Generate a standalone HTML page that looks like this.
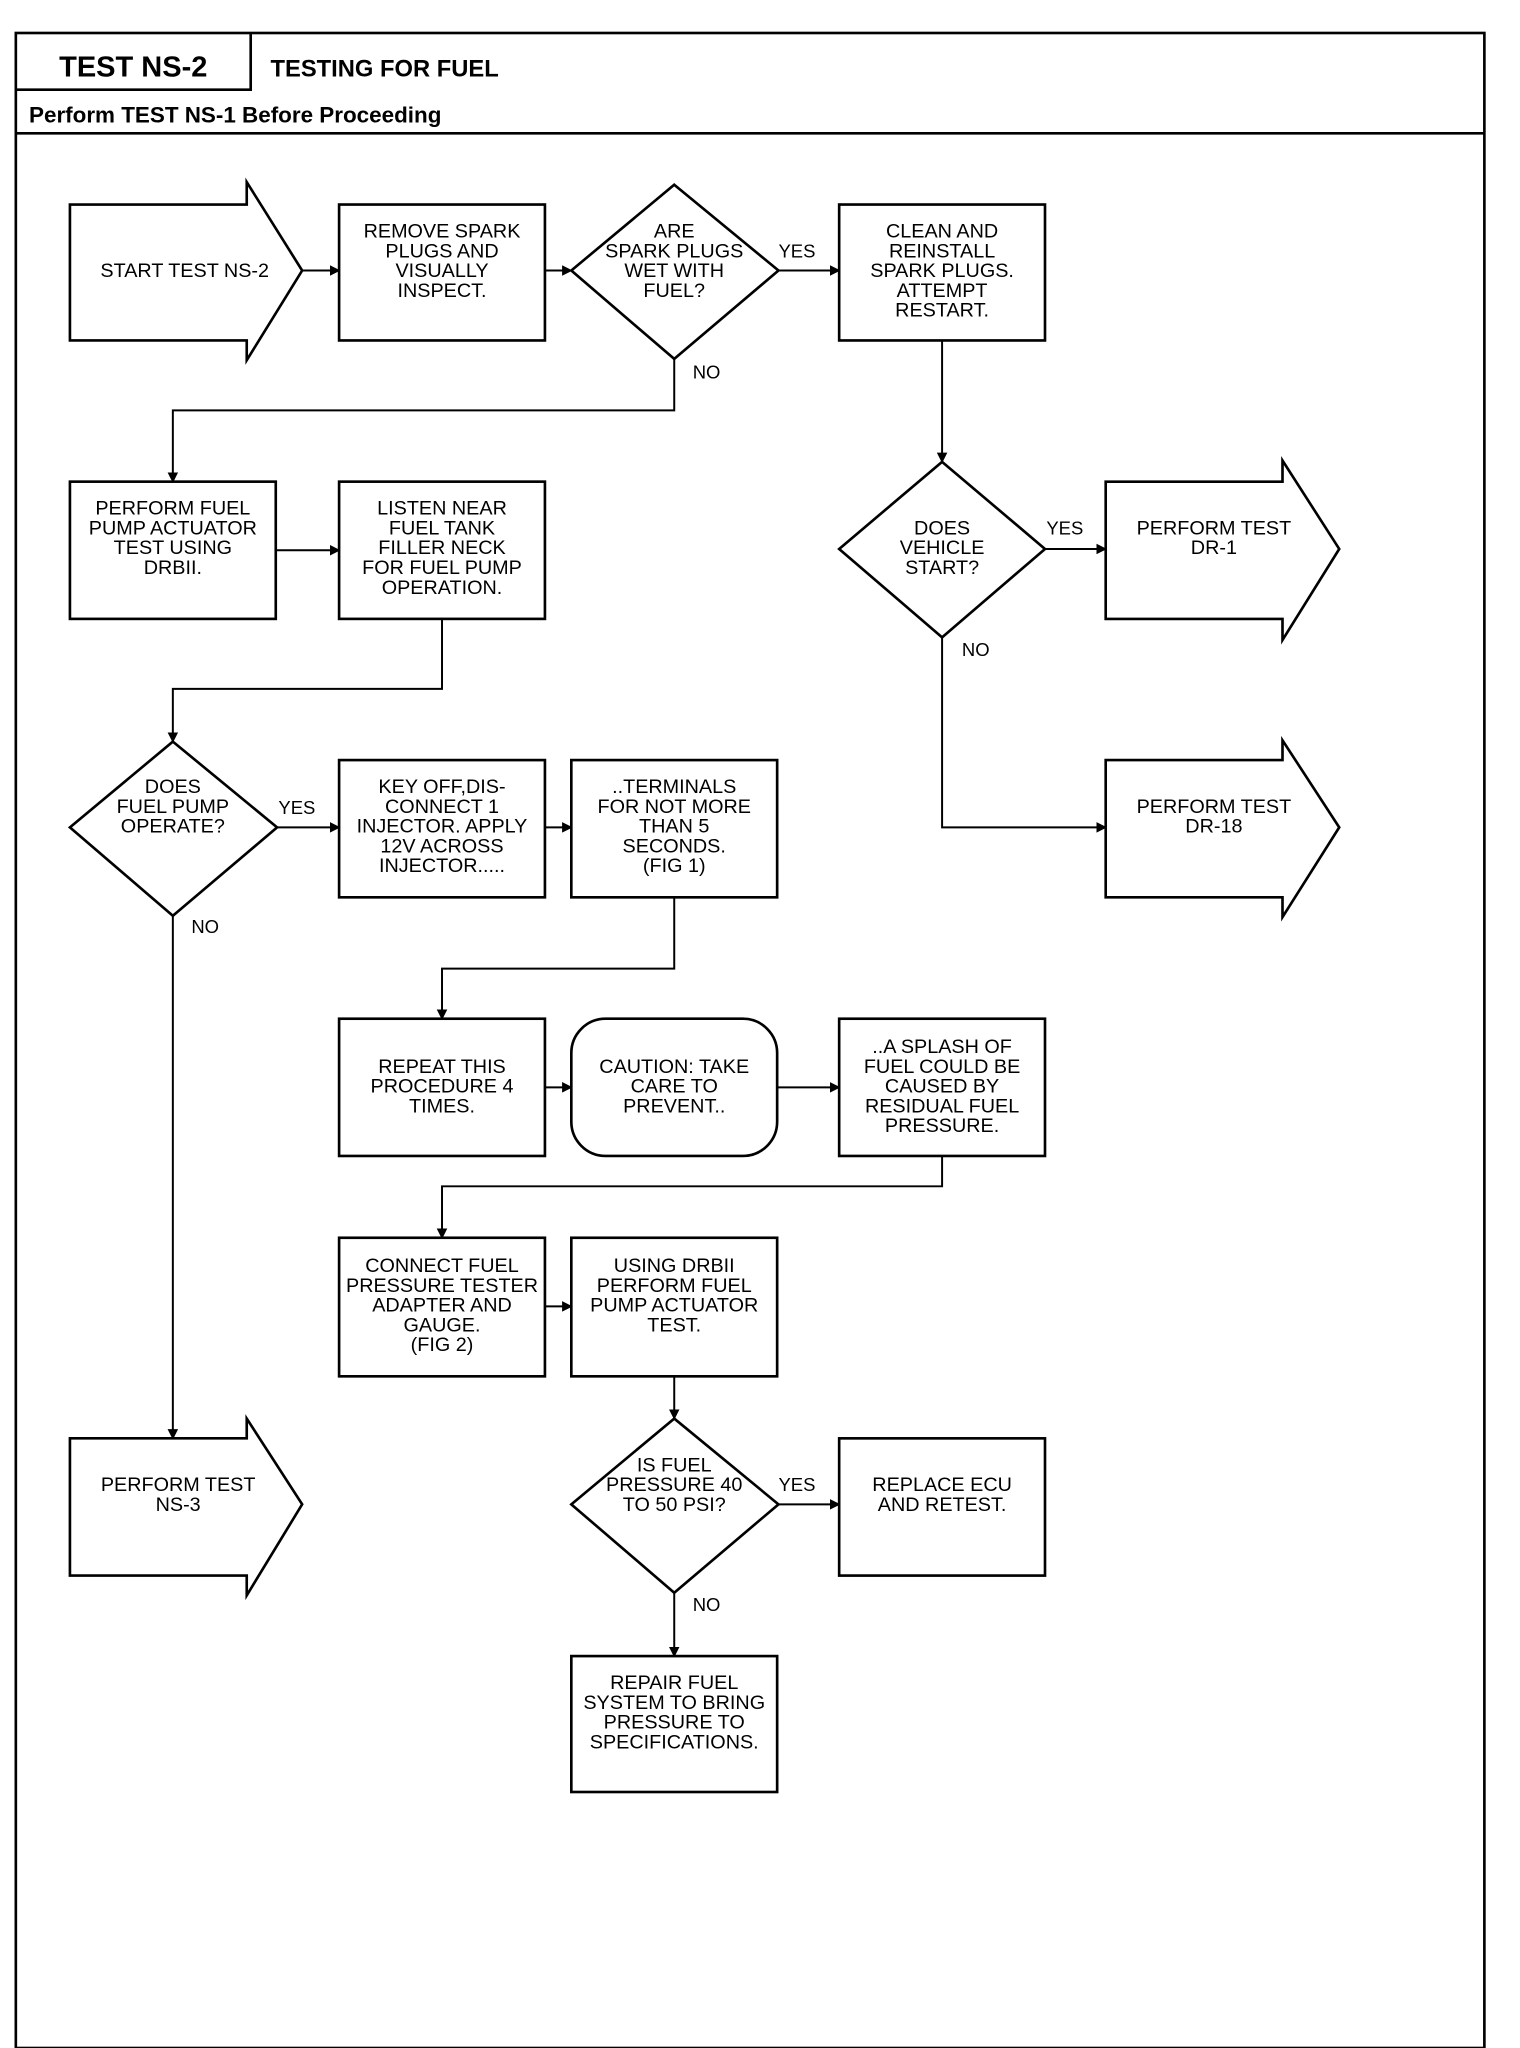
<!DOCTYPE html>
<html><head><meta charset="utf-8"><style>
html,body{margin:0;padding:0;background:#fff}
svg{display:block}
.t{font-family:"Liberation Sans Narrow","Liberation Sans",sans-serif;font-size:15px;text-anchor:middle;fill:#000}
.l{font-family:"Liberation Sans",sans-serif;font-size:14px;fill:#000}
</style></head><body>
<svg width="1520" height="2048" viewBox="0 0 1152 1552" preserveAspectRatio="none" xmlns="http://www.w3.org/2000/svg">
<defs><marker id="a" markerWidth="8" markerHeight="8" refX="7" refY="4" orient="auto" markerUnits="userSpaceOnUse"><path d="M0,0 L8,4 L0,8 z" fill="#000"/></marker></defs>
<g fill="none" stroke="#000" stroke-width="2">
<rect x="12" y="25" width="1113" height="1527"/>
<line x1="12" y1="101" x2="1125" y2="101"/>
<polyline points="12,68 190,68 190,25"/>
<!-- shapes -->
<polygon points="53,155 187,155 187,138 229,205 187,273 187,258 53,258"/>
<rect x="257" y="155" width="156" height="103"/>
<polygon points="511,140 590,205 511,272 433,205"/>
<rect x="636" y="155" width="156" height="103"/>
<rect x="53" y="365" width="156" height="104"/>
<rect x="257" y="365" width="156" height="104"/>
<polygon points="131,562 210,627 131,694 53,627"/>
<rect x="257" y="576" width="156" height="104"/>
<rect x="433" y="576" width="156" height="104"/>
<rect x="257" y="772" width="156" height="104"/>
<rect x="433" y="772" width="156" height="104" rx="26"/>
<rect x="636" y="772" width="156" height="104"/>
<rect x="257" y="938" width="156" height="105"/>
<rect x="433" y="938" width="156" height="105"/>
<polygon points="511,1075 590,1140 511,1207 433,1140"/>
<rect x="636" y="1090" width="156" height="104"/>
<rect x="433" y="1255" width="156" height="103"/>
<polygon points="53,1090 187,1090 187,1075 229,1140 187,1209 187,1194 53,1194"/>
<polygon points="714,350 792,416 714,483 636,416"/>
<polygon points="838,365 972,365 972,349 1015,416 972,485 972,469 838,469"/>
<polygon points="838,576 972,576 972,561 1015,627 972,695 972,680 838,680"/>
</g>
<g fill="none" stroke="#000" stroke-width="1.5" marker-end="url(#a)">
<line x1="229" y1="205" x2="257" y2="205"/>
<line x1="413" y1="205" x2="433" y2="205"/>
<line x1="590" y1="205" x2="636" y2="205"/>
<polyline points="511,272 511,311 131,311 131,365"/>
<line x1="209" y1="417" x2="257" y2="417"/>
<polyline points="335,469 335,522 131,522 131,562"/>
<line x1="210" y1="627" x2="257" y2="627"/>
<line x1="413" y1="627" x2="433" y2="627"/>
<polyline points="511,680 511,734 335,734 335,772"/>
<line x1="413" y1="824" x2="433" y2="824"/>
<line x1="589" y1="824" x2="636" y2="824"/>
<polyline points="714,876 714,899 335,899 335,938"/>
<line x1="413" y1="990" x2="433" y2="990"/>
<line x1="511" y1="1043" x2="511" y2="1075"/>
<line x1="590" y1="1140" x2="636" y2="1140"/>
<line x1="511" y1="1207" x2="511" y2="1255"/>
<line x1="131" y1="694" x2="131" y2="1090"/>
<line x1="714" y1="258" x2="714" y2="350"/>
<line x1="792" y1="416" x2="838" y2="416"/>
<polyline points="714,483 714,627 838,627"/>
</g>
<text x="101" y="58" font-family="Liberation Sans,sans-serif" font-weight="bold" font-size="22" text-anchor="middle">TEST NS-2</text>
<text x="205" y="58" font-family="Liberation Sans,sans-serif" font-weight="bold" font-size="18">TESTING FOR FUEL</text>
<text x="22" y="93" font-family="Liberation Sans,sans-serif" font-weight="bold" font-size="17">Perform TEST NS-1 Before Proceeding</text>
<g class="t">
<text x="140" y="210">START TEST NS-2</text>
<text x="335" y="180">REMOVE SPARK</text><text x="335" y="195">PLUGS AND</text><text x="335" y="210">VISUALLY</text><text x="335" y="225">INSPECT.</text>
<text x="511" y="180">ARE</text><text x="511" y="195">SPARK PLUGS</text><text x="511" y="210">WET WITH</text><text x="511" y="225">FUEL?</text>
<text x="714" y="180">CLEAN AND</text><text x="714" y="195">REINSTALL</text><text x="714" y="210">SPARK PLUGS.</text><text x="714" y="225">ATTEMPT</text><text x="714" y="240">RESTART.</text>
<text x="131" y="390">PERFORM FUEL</text><text x="131" y="405">PUMP ACTUATOR</text><text x="131" y="420">TEST USING</text><text x="131" y="435">DRBII.</text>
<text x="335" y="390">LISTEN NEAR</text><text x="335" y="405">FUEL TANK</text><text x="335" y="420">FILLER NECK</text><text x="335" y="435">FOR FUEL PUMP</text><text x="335" y="450">OPERATION.</text>
<text x="714" y="405">DOES</text><text x="714" y="420">VEHICLE</text><text x="714" y="435">START?</text>
<text x="920" y="405">PERFORM TEST</text><text x="920" y="420">DR-1</text>
<text x="920" y="616">PERFORM TEST</text><text x="920" y="631">DR-18</text>
<text x="131" y="601">DOES</text><text x="131" y="616">FUEL PUMP</text><text x="131" y="631">OPERATE?</text>
<text x="335" y="601">KEY OFF,DIS-</text><text x="335" y="616">CONNECT 1</text><text x="335" y="631">INJECTOR. APPLY</text><text x="335" y="646">12V ACROSS</text><text x="335" y="661">INJECTOR.....</text>
<text x="511" y="601">..TERMINALS</text><text x="511" y="616">FOR NOT MORE</text><text x="511" y="631">THAN 5</text><text x="511" y="646">SECONDS.</text><text x="511" y="661">(FIG 1)</text>
<text x="335" y="813">REPEAT THIS</text><text x="335" y="828">PROCEDURE 4</text><text x="335" y="843">TIMES.</text>
<text x="511" y="813">CAUTION: TAKE</text><text x="511" y="828">CARE TO</text><text x="511" y="843">PREVENT..</text>
<text x="714" y="798">..A SPLASH OF</text><text x="714" y="813">FUEL COULD BE</text><text x="714" y="828">CAUSED BY</text><text x="714" y="843">RESIDUAL FUEL</text><text x="714" y="858">PRESSURE.</text>
<text x="335" y="964">CONNECT FUEL</text><text x="335" y="979">PRESSURE TESTER</text><text x="335" y="994">ADAPTER AND</text><text x="335" y="1009">GAUGE.</text><text x="335" y="1024">(FIG 2)</text>
<text x="511" y="964">USING DRBII</text><text x="511" y="979">PERFORM FUEL</text><text x="511" y="994">PUMP ACTUATOR</text><text x="511" y="1009">TEST.</text>
<text x="511" y="1115">IS FUEL</text><text x="511" y="1130">PRESSURE 40</text><text x="511" y="1145">TO 50 PSI?</text>
<text x="714" y="1130">REPLACE ECU</text><text x="714" y="1145">AND RETEST.</text>
<text x="511" y="1280">REPAIR FUEL</text><text x="511" y="1295">SYSTEM TO BRING</text><text x="511" y="1310">PRESSURE TO</text><text x="511" y="1325">SPECIFICATIONS.</text>
<text x="135" y="1130">PERFORM TEST</text><text x="135" y="1145">NS-3</text>
</g>
<g class="l">
<text x="590" y="195">YES</text><text x="525" y="287">NO</text>
<text x="211" y="617">YES</text><text x="145" y="707">NO</text>
<text x="793" y="405">YES</text><text x="729" y="497">NO</text>
<text x="590" y="1130">YES</text><text x="525" y="1221">NO</text>
</g>
</svg>
</body></html>
